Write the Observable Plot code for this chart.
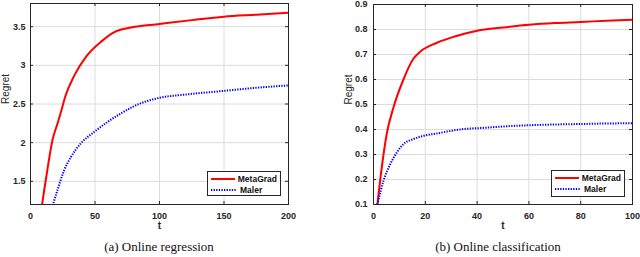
<!DOCTYPE html>
<html>
<head>
<meta charset="utf-8">
<script src="https://cdn.jsdelivr.net/npm/d3@7"></script>
<script src="https://cdn.jsdelivr.net/npm/@observablehq/plot@0.6"></script>
<style>
  body { margin: 0; background: #fff; }
  #wrap { display: flex; width: 640px; }
  .panel { position: relative; width: 320px; height: 257px; }
  .caption { position: absolute; top: 239px; font-family: "Liberation Serif", "Times New Roman", serif; font-size: 13px; color: #111; white-space: nowrap; transform: translateX(-50%); }
  .legend { position: absolute; background: #fff; border: 1px solid #262626; box-sizing: border-box; font-family: "Liberation Sans", Arial, sans-serif; font-weight: bold; font-size: 8.5px; color: #111; padding: 1px 3px; }
  .legend .row { display: flex; align-items: center; height: 11.5px; }
  .legend svg { margin-right: 3px; }
</style>
</head>
<body>
<div id="wrap">
  <div class="panel" id="pa"></div>
  <div class="panel" id="pb"></div>
</div>
<script>
// (a) Online regression
const tMetaA = [8, 9, 13, 17, 21, 24, 27, 34, 43, 55, 65, 78, 100, 125, 150, 175, 200];
const rMetaA = [1.08, 1.2, 1.64, 2.03, 2.25, 2.42, 2.6, 2.87, 3.11, 3.31, 3.43, 3.49, 3.535, 3.585, 3.63, 3.655, 3.68];
const tMalerA = [16, 17.4, 20.8, 26, 31.2, 39, 49.5, 59.9, 70.3, 80, 100, 119, 150, 175, 200];
const rMalerA = [1.12, 1.2, 1.38, 1.64, 1.81, 1.99, 2.14, 2.27, 2.38, 2.47, 2.58, 2.62, 2.67, 2.71, 2.74];
const xTicksA = [0, 50, 100, 150, 200];
const yTicksA = [1.5, 2, 2.5, 3, 3.5];

// (b) Online classification
const tMetaB = [1.5, 3.2, 5.1, 7.7, 11.6, 15.2, 18, 24.5, 31, 37.4, 40, 50, 60, 70, 80, 90, 100];
const rMetaB = [0.1, 0.249, 0.382, 0.488, 0.601, 0.68, 0.711, 0.747, 0.771, 0.789, 0.795, 0.808, 0.819, 0.826, 0.83, 0.835, 0.839];
const tMalerB = [1.5, 3.9, 6.5, 9, 11.6, 15.5, 19.3, 24.5, 30, 37.4, 40, 50, 60, 70, 80, 90, 100];
const rMalerB = [0.1, 0.196, 0.262, 0.308, 0.342, 0.362, 0.375, 0.384, 0.395, 0.404, 0.405, 0.412, 0.417, 0.42, 0.422, 0.424, 0.425];
const xTicksB = [0, 20, 40, 60, 80, 100];
const yTicksB = [0.1, 0.2, 0.3, 0.4, 0.5, 0.6, 0.7, 0.8, 0.9];

const seriesNames = ["MetaGrad", "Maler"];
const captions = ["(a) Online regression", "(b) Online classification"];

const toPts = (ts, rs) => ts.map((t, i) => ({t, r: rs[i]}));

function makeChart(cfg) {
  const H = 232;
  const innerH = H - cfg.marginTop - cfg.marginBottom;
  return Plot.plot({
    width: 320,
    height: H,
    marginLeft: cfg.marginLeft,
    marginRight: cfg.marginRight,
    marginTop: cfg.marginTop,
    marginBottom: cfg.marginBottom,
    style: {fontFamily: "'Liberation Sans', Arial, sans-serif", fontSize: "9px", color: "#262626", background: "#fff", overflow: "visible"},
    x: {domain: cfg.xDomain, ticks: cfg.xTicks},
    y: {domain: cfg.yDomain, ticks: cfg.yTicks},
    marks: [
      Plot.gridX(cfg.xTicks, {stroke: "#dcdcdc", strokeOpacity: 1, strokeWidth: 1}),
      Plot.gridY(cfg.yTicks, {stroke: "#dcdcdc", strokeOpacity: 1, strokeWidth: 1}),
      Plot.line(toPts(cfg.tMeta, cfg.rMeta), {x: "t", y: "r", stroke: "#ff0000", strokeWidth: 2, curve: "monotone-x", clip: true}),
      Plot.line(toPts(cfg.tMaler, cfg.rMaler), {x: "t", y: "r", stroke: "#0000ff", strokeWidth: 2, strokeDasharray: "1.3 1.3", strokeLinecap: "butt", curve: "monotone-x", clip: true}),
      Plot.tickX(cfg.xTicks, {x: d => d, stroke: "#262626", insetTop: innerH - 3}),
      Plot.tickX(cfg.xTicks, {x: d => d, stroke: "#262626", insetBottom: innerH - 3}),
      Plot.tickY(cfg.yTicks, {y: d => d, stroke: "#262626", insetRight: cfg.innerW - 3}),
      Plot.tickY(cfg.yTicks, {y: d => d, stroke: "#262626", insetLeft: cfg.innerW - 3}),
      Plot.axisX(cfg.xTicks, {tickSize: 0, tickPadding: 8, fontWeight: "bold", label: null}),
      Plot.axisY(cfg.yTicks, {tickSize: 0, tickPadding: cfg.yPad, fontWeight: "bold", label: null, tickFormat: d => String(d)}),
      Plot.frame({stroke: "#262626", strokeWidth: 1}),
      Plot.text(["t"], {frameAnchor: "bottom", dy: 24, fontWeight: "bold", fontSize: 10, fill: "#262626"}),
      Plot.text(["Regret"], {frameAnchor: "left", dx: -25, rotate: -90, fontSize: 10, fill: "#262626"})
    ]
  });
}

const cfgs = [
  {id: "pa", marginLeft: 30, marginRight: 32, marginTop: 3, marginBottom: 28, yPad: 5, innerW: 258,
   xDomain: [0, 200], yDomain: [1.2, 3.8], xTicks: xTicksA, yTicks: yTicksA,
   tMeta: tMetaA, rMeta: rMetaA, tMaler: tMalerA, rMaler: rMalerA,
   legend: {left: 207, top: 171, width: 74, height: 25}, capX: 159, caption: captions[0]},
  {id: "pb", marginLeft: 53, marginRight: 8, marginTop: 4, marginBottom: 28, yPad: 6, innerW: 259,
   xDomain: [0, 100], yDomain: [0.1, 0.9], xTicks: xTicksB, yTicks: yTicksB,
   tMeta: tMetaB, rMeta: rMetaB, tMaler: tMalerB, rMaler: rMalerB,
   legend: {left: 231, top: 170, width: 74, height: 27}, capX: 178, caption: captions[1]}
];

for (const cfg of cfgs) {
  const panel = document.getElementById(cfg.id);
  panel.appendChild(makeChart(cfg));
  const lg = document.createElement("div");
  lg.className = "legend";
  Object.assign(lg.style, {left: cfg.legend.left + "px", top: cfg.legend.top + "px", width: cfg.legend.width + "px", height: cfg.legend.height + "px"});
  const styles = [{stroke: "#ff0000", dash: ""}, {stroke: "#0000ff", dash: "1.3 1.3"}];
  seriesNames.forEach((name, i) => {
    const row = document.createElement("div");
    row.className = "row";
    row.innerHTML = `<svg width="26" height="6"><line x1="0" x2="26" y1="3" y2="3" stroke="${styles[i].stroke}" stroke-width="2" ${styles[i].dash ? `stroke-dasharray="${styles[i].dash}"` : ""}/></svg><span>${name}</span>`;
    lg.appendChild(row);
  });
  panel.appendChild(lg);
  const cap = document.createElement("div");
  cap.className = "caption";
  cap.style.left = cfg.capX + "px";
  cap.textContent = cfg.caption;
  panel.appendChild(cap);
}
</script>
</body>
</html>
